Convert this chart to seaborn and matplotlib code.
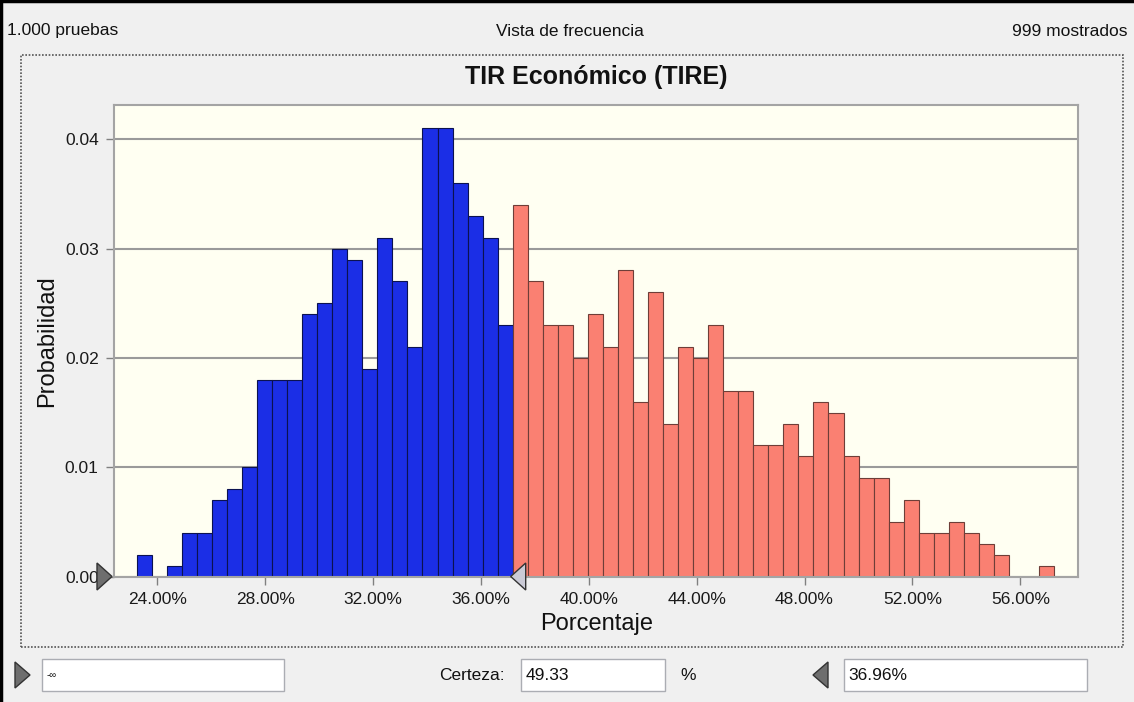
import numpy as np
import matplotlib
matplotlib.use("Agg")
import matplotlib.pyplot as plt
from matplotlib.patches import Rectangle, Polygon
from matplotlib.lines import Line2D
from matplotlib.ticker import FuncFormatter
import seaborn as sns

# Frequency view values (61 equal bins)
bin_lo, bin_hi = 23.24, 57.25   # outer edges of the histogram, in %
prob_left = [0.002, 0.000, 0.001, 0.004, 0.004, 0.007, 0.008, 0.010, 0.018, 0.018,
             0.018, 0.024, 0.025, 0.030, 0.029, 0.019, 0.031, 0.027, 0.021, 0.041,
             0.041, 0.036, 0.033, 0.031, 0.023]
prob_right = [0.034, 0.027, 0.023, 0.023, 0.020, 0.024, 0.021, 0.028, 0.016, 0.026,
              0.014, 0.021, 0.020, 0.023, 0.017, 0.017, 0.012, 0.012, 0.014, 0.011,
              0.016, 0.015, 0.011, 0.009, 0.009, 0.005, 0.007, 0.004, 0.004, 0.005,
              0.004, 0.003, 0.002, 0.000, 0.000, 0.001]
x_ticks = [24, 28, 32, 36, 40, 44, 48, 52, 56]
y_ticks = [0.00, 0.01, 0.02, 0.03, 0.04]

title = "TIR Económico (TIRE)"
header_left, header_mid, header_right = "1.000 pruebas", "Vista de frecuencia", "999 mostrados"
lower_val, certeza, upper_val = "-∞", "49.33", "36.96%"

W, H = 1134, 702
sns.set_theme(style="white")
plt.rcParams["font.family"] = ["Liberation Sans", "DejaVu Sans"]


def px(x, y):
    # screenshot pixel -> figure fraction
    return (x / W, 1 - y / H)


fig = plt.figure(figsize=(W / 100, H / 100), dpi=100, facecolor="#f0f0f0")
ax = fig.add_axes([114 / W, 1 - 576.7 / H, (1078.3 - 114) / W, (576.7 - 104.7) / H])
ax.set_facecolor("#fffff2")

edges = np.linspace(bin_lo, bin_hi, len(prob_left) + len(prob_right) + 1)
centers = (edges[:-1] + edges[1:]) / 2
k = len(prob_left)

sns.histplot(x=list(centers[:k]), weights=prob_left, bins=list(edges[:k + 1]), stat="count",
             color="#1b2ee6", edgecolor="#0b1250", linewidth=0.8, alpha=1, ax=ax)
sns.histplot(x=list(centers[k:]), weights=prob_right, bins=list(edges[k:]), stat="count",
             color="#fa8072", edgecolor="#6e3e38", linewidth=0.8, alpha=1, ax=ax)
for p in ax.patches:
    if p.get_height() == 0:
        p.set_visible(False)

ax.set_xlim(22.395, 58.15)
ax.set_ylim(0, 0.04316)
ax.set_xticks(x_ticks)
ax.set_yticks(y_ticks)
ax.xaxis.set_major_formatter(FuncFormatter(lambda v, _: f"{v:.2f}%"))
ax.yaxis.set_major_formatter(FuncFormatter(lambda v, _: f"{v:.2f}"))
ax.yaxis.grid(True, color="#9a9a9a", lw=1.5)
ax.xaxis.grid(False)
ax.set_axisbelow(True)
for s in ax.spines.values():
    s.set_visible(True)
    s.set_color("#a4a4a4")
    s.set_linewidth(1.5)
ax.tick_params(axis="both", bottom=True, left=True, direction="out", length=6,
               width=1, color="#808080", labelsize=12.5, pad=5, labelcolor="#1a1a1a")

ax.set_title(title, fontsize=18, fontweight="bold", pad=15, color="#111111")
ax.set_xlabel("Porcentaje", fontsize=17, color="#111111")
ax.set_ylabel("Probabilidad", fontsize=17, color="#111111")
ax.xaxis.set_label_coords(0.5, -0.077)
ax.yaxis.set_label_coords(-0.058, 0.5)

# header line
fig.text(*px(7, 31), header_left, ha="left", va="center", fontsize=12.5, color="#111111")
fig.text(*px(570, 31), header_mid, ha="center", va="center", fontsize=12.5, color="#111111")
fig.text(*px(1127, 31), header_right, ha="right", va="center", fontsize=12.5, color="#111111")

# window border and dotted focus frame
fig.add_artist(Line2D([0, 1], [1 - 1 / H, 1 - 1 / H], color="black", lw=2.5))
fig.add_artist(Line2D([1 / W, 1 / W], [0, 1], color="black", lw=2.5))
x0, y0 = px(21, 647)
x1, y1 = px(1123, 55)
fig.add_artist(Rectangle((x0, y0), x1 - x0, y1 - y0, fill=False, ls=(0, (1, 1)),
                         ec="#555555", lw=1.2, transform=fig.transFigure))


def tri(pts, fc):
    fig.add_artist(Polygon([px(a, b) for a, b in pts], closed=True, fc=fc, ec="#333333",
                           lw=1, transform=fig.transFigure, zorder=5))


# sliders on the chart
tri([(97, 563), (112, 576.5), (97, 590)], "#6e6e6e")
tri([(525.7, 563), (510.7, 576.5), (525.7, 590)], "#cacad6")

# bottom controls
for bx0, bx1 in [(42, 284), (521, 665), (844, 1087)]:
    a0, b0 = px(bx0, 691)
    a1, b1 = px(bx1, 659)
    fig.add_artist(Rectangle((a0, b0), a1 - a0, b1 - b0, fc="white", ec="#abadb3",
                             lw=1, transform=fig.transFigure))
tri([(15, 662), (30, 675), (15, 688)], "#6e6e6e")
tri([(828, 662), (813, 675), (828, 688)], "#6e6e6e")
fig.text(*px(47, 675), lower_val, ha="left", va="center", fontsize=7, color="#111111")
fig.text(*px(505, 675), "Certeza:", ha="right", va="center", fontsize=12.5, color="#111111")
fig.text(*px(526, 675), certeza, ha="left", va="center", fontsize=12.5, color="#111111")
fig.text(*px(688, 675), "%", ha="center", va="center", fontsize=12.5, color="#111111")
fig.text(*px(848, 675), upper_val, ha="left", va="center", fontsize=12.5, color="#111111")

fig.savefig("out.png", dpi=100, facecolor=fig.get_facecolor())
